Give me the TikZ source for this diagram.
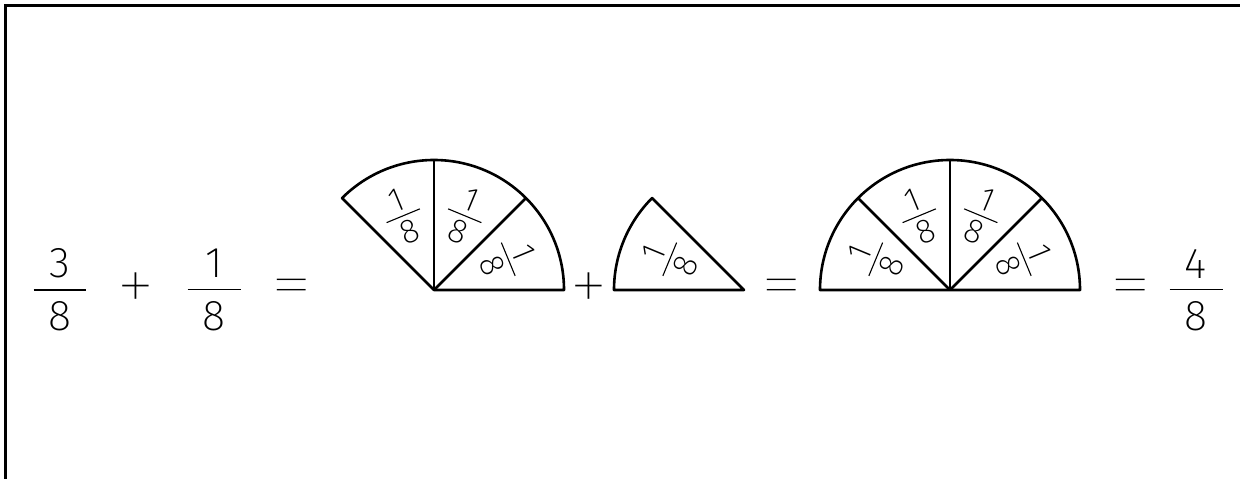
\documentclass[tikz,border=0pt]{standalone}
\usepackage{fontspec}
\setmainfont{Fira Sans}[UprightFont=* ExtraLight]
\newfontfamily\opfont{Fira Sans}[UprightFont=* Thin]
\usetikzlibrary{calc}
\newcommand\frc[4]{\vbox{\offinterlineskip\hbox to #3{\hss#1\hss}\kern#4\hrule height 1.1pt\kern#4\hbox to #3{\hss#2\hss}}}
\begin{document}
\begin{tikzpicture}[x=1pt,y=1pt,
  pie/.style={line width=2.6pt,line join=round},
  bigfrac/.style={inner sep=0pt,font=\fontsize{43}{43}\selectfont},
  op/.style={inner sep=0pt,font=\opfont\fontsize{50}{50}\selectfont},
  piefrac/.style={inner sep=0pt,font=\fontsize{34}{34}\selectfont}]
\useasboundingbox (0,0) rectangle (1240,479);
\draw[line width=2.5pt] (5.5,0) -- (5.5,473.5) -- (1240,473.5);
% left fractions
\node[bigfrac] (f1) at (60,189) {\frc{3}{8}{53pt}{11pt}};
\node[op] (p1) at (136,186) {\scalebox{1.6}{+}};
\node[bigfrac] (f2) at (214,189) {\frc{1}{8}{53pt}{11pt}};
\node[op] (e1) at (292,186) {\scalebox{1.75}[1.3]{=}};
% sector 1 (three eighths)
\coordinate (A) at (434,189);
\draw[pie] (A) -- ++(0:130) arc (0:135:130) -- cycle;
\draw[pie] (A) -- ++(45:130);
\draw[pie] (A) -- ++(90:130);
\node[piefrac,rotate=-67.5] (a1) at ($(A)+(22.5:80)$) {\frc{1}{8}{36pt}{5pt}};
\node[piefrac,rotate=-22.5] (a2) at ($(A)+(67.5:80)$) {\frc{1}{8}{36pt}{5pt}};
\node[piefrac,rotate=22.5] (a3) at ($(A)+(112.5:80)$) {\frc{1}{8}{36pt}{5pt}};
\node[op] (p2) at (589,186) {\scalebox{1.6}{+}};
% sector 2 (one eighth)
\coordinate (B) at (744,189);
\draw[pie] (B) -- ++(135:130) arc (135:180:130) -- cycle;
\node[piefrac,rotate=67.5] (b1) at ($(B)+(157.5:80)$) {\frc{1}{8}{36pt}{5pt}};
\node[op] (e2) at (782,186) {\scalebox{1.75}[1.3]{=}};
% semicircle (four eighths)
\coordinate (C) at (950,189);
\draw[pie] (C) -- ++(0:130) arc (0:180:130) -- cycle;
\draw[pie] (C) -- ++(45:130);
\draw[pie] (C) -- ++(90:130);
\draw[pie] (C) -- ++(135:130);
\node[piefrac,rotate=-67.5] (c1) at ($(C)+(22.5:80)$) {\frc{1}{8}{36pt}{5pt}};
\node[piefrac,rotate=-22.5] (c2) at ($(C)+(67.5:80)$) {\frc{1}{8}{36pt}{5pt}};
\node[piefrac,rotate=22.5] (c3) at ($(C)+(112.5:80)$) {\frc{1}{8}{36pt}{5pt}};
\node[piefrac,rotate=67.5] (c4) at ($(C)+(157.5:80)$) {\frc{1}{8}{36pt}{5pt}};
\node[op] (e3) at (1131,186) {\scalebox{1.75}[1.3]{=}};
\node[bigfrac] (f3) at (1196,189) {\frc{4}{8}{53pt}{11pt}};
\end{tikzpicture}
\end{document}
